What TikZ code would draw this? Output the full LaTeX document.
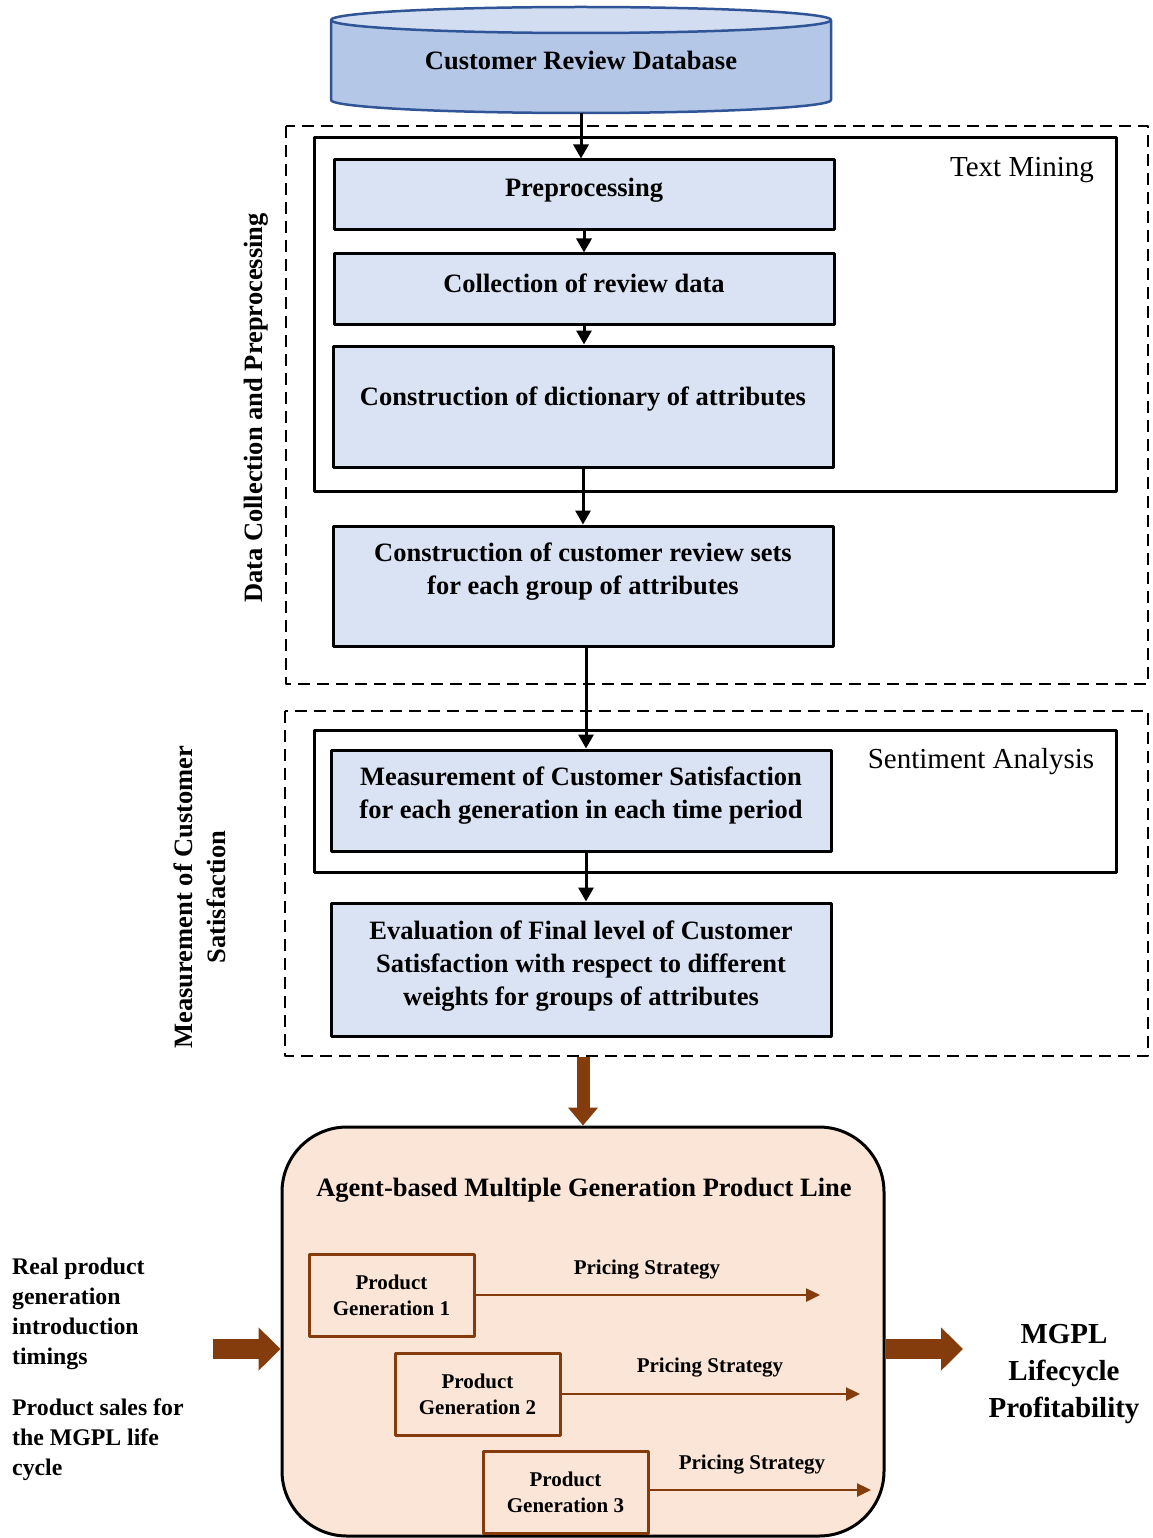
\documentclass[tikz,border=0pt]{standalone}
\usepackage{fontspec}
\setmainfont{Liberation Serif}
\usetikzlibrary{arrows.meta}
\definecolor{boxblue}{HTML}{DAE3F3}
\definecolor{dbbody}{HTML}{B4C7E7}
\definecolor{dbtop}{HTML}{D2DDF1}
\definecolor{dbline}{HTML}{2F5597}
\definecolor{peach}{HTML}{FBE5D6}
\definecolor{brownline}{HTML}{843C0C}
\begin{document}
\begin{tikzpicture}[x=1pt, y=-1pt, line join=round, font=\bfseries\fontsize{26.5}{33}\selectfont,
	bluebox/.style={draw, line width=3pt, fill=boxblue, minimum width=500pt, inner sep=0pt},
	boxtext/.style={align=center, inner sep=0pt},
	frame/.style={draw, line width=3pt},
	dashframe/.style={draw, line width=2.5pt, dash pattern=on 12pt off 7pt},
	flow/.style={-{Triangle[width=15pt,length=14pt]}, line width=3pt},
	price/.style={-{Triangle[width=13pt,length=14pt]}, line width=2.5pt, brownline},
	thickdown/.style={-{Triangle[width=29pt,length=18pt]}, line width=13pt, brownline},
	thickside/.style={-{Triangle[width=42pt,length=22pt]}, line width=20pt, brownline},
	genbox/.style={draw=brownline, line width=3pt, minimum width=165pt, minimum height=82pt, inner sep=0pt, align=center, font=\bfseries\fontsize{21}{26}\selectfont},
	pricetext/.style={font=\bfseries\fontsize{21}{26}\selectfont},
	sidetext/.style={align=left, anchor=west, inner sep=0pt, font=\bfseries\fontsize{23.8}{30}\selectfont}]
	\useasboundingbox (0,0) rectangle (1152,1538);
	\fill [dbbody] (331,20)--(331,100) arc [start angle=180, end angle=360, x radius=250pt, y radius=13pt]--(831,20)--cycle;
	\draw [dbline, line width=2.5pt] (331,20)--(331,100) arc [start angle=180, end angle=360, x radius=250pt, y radius=13pt]--(831,20);
	\draw [dbline, line width=2.5pt, fill=dbtop] (581,20) ellipse [x radius=250pt, y radius=13pt];
	\node [inner sep=0pt, minimum width=500pt, minimum height=106pt] (db) at (581,60) {Customer Review Database};
	\draw [dashframe] (286,126) rectangle (1148,684)
	(285,711) rectangle (1148,1056)
	;
	\draw [frame] (314,138) rectangle (1116,491)
	(314,730) rectangle (1116,872)
	;
	\node [font=\mdseries\fontsize{29}{34}\selectfont] (tm) at (1022,170) {Text Mining};
	\node [font=\mdseries\fontsize{29}{34}\selectfont] (sa) at (981,762) {Sentiment Analysis};
	\node [rotate=90] (dcp) at (256,408) {Data Collection and Preprocessing};
	\node [rotate=90, align=center] (mcs) at (200,897) {Measurement of Customer\\Satisfaction};
	\node [bluebox, minimum height=70pt] (prep) at (584,195) {};
	\node [bluebox, minimum height=70pt] (coll) at (584,289) {};
	\node [bluebox, minimum height=121pt] (dict) at (583,406.5) {};
	\node [bluebox, minimum height=120pt] (sets) at (583,586) {};
	\node [bluebox, minimum height=101pt] (meas) at (581,800.5) {};
	\node [bluebox, minimum height=133pt] (eval) at (581,969.5) {};
	\node [boxtext] (prep-t) at (584,190) {Preprocessing};
	\node [boxtext] (coll-t) at (584,283) {Collection of review data};
	\node [boxtext] (dict-t) at (583,399) {Construction of dictionary of attributes};
	\node [boxtext] (sets-t) at (583,571.5) {Construction of customer review sets\\for each group of attributes};
	\node [boxtext] (meas-t) at (581,795.5) {Measurement of Customer Satisfaction\\for each generation in each time period};
	\node [boxtext] (eval-t) at (581,966) {Evaluation of Final level of Customer\\Satisfaction with respect to different\\weights for groups of attributes};
	\draw [flow] (db.south)--(db.south |- prep.north);
	\draw [flow] (prep.south)--(coll.north);
	\draw [flow] (coll.south)--(coll.south |- dict.north);
	\draw [flow] (dict.south)--(dict.south |- sets.north);
	\draw [flow] ([xshift=3pt]sets.south)--([xshift=3pt]sets.south |- meas.north);
	\draw [flow] ([xshift=5pt]meas.south)--([xshift=5pt]meas.south |- eval.north);
	\node [draw, line width=3pt, fill=peach, rounded corners=65pt, minimum width=602pt, minimum height=409pt] (mgpl) at (583,1331.5) {};
	\coordinate (dashbot) at (583,1057);
	\draw [thickdown] (dashbot)--(dashbot |- mgpl.north);
	\node (mgpl-t) at (584,1190) {Agent-based Multiple Generation Product Line};
	\node [genbox] (pg1) at (391.5,1295) {Product\\Generation 1};
	\node [genbox] (pg2) at (477.5,1394) {Product\\Generation 2};
	\node [genbox] (pg3) at (565.5,1492) {Product\\Generation 3};
	\coordinate (p1) at (820,1295);
	\coordinate (p2) at (860,1394);
	\coordinate (p3) at (871,1490);
	\draw [price] (pg1.east)--(p1);
	\draw [price] (pg2.east)--(p2);
	\draw [price] (pg3.east |- p3)--(p3);
	\node [pricetext] (ps1) at (647,1270) {Pricing Strategy};
	\node [pricetext] (ps2) at (710,1368) {Pricing Strategy};
	\node [pricetext] (ps3) at (752,1465) {Pricing Strategy};
	\coordinate (inl) at (213,1349);
	\coordinate (outr) at (963,1349);
	\draw [thickside] (inl)--(inl -| mgpl.west);
	\draw [thickside] (outr -| mgpl.east)--(outr);
	\node [sidetext] (in1) at (12,1314) {Real product\\generation\\introduction\\timings};
	\node [sidetext] (in2) at (12,1440) {Product sales for\\the MGPL life\\cycle};
	\node [align=center, font=\bfseries\fontsize{29}{37}\selectfont] (profit) at (1064,1374) {MGPL\\Lifecycle\\Profitability};
\end{tikzpicture}
\end{document}
